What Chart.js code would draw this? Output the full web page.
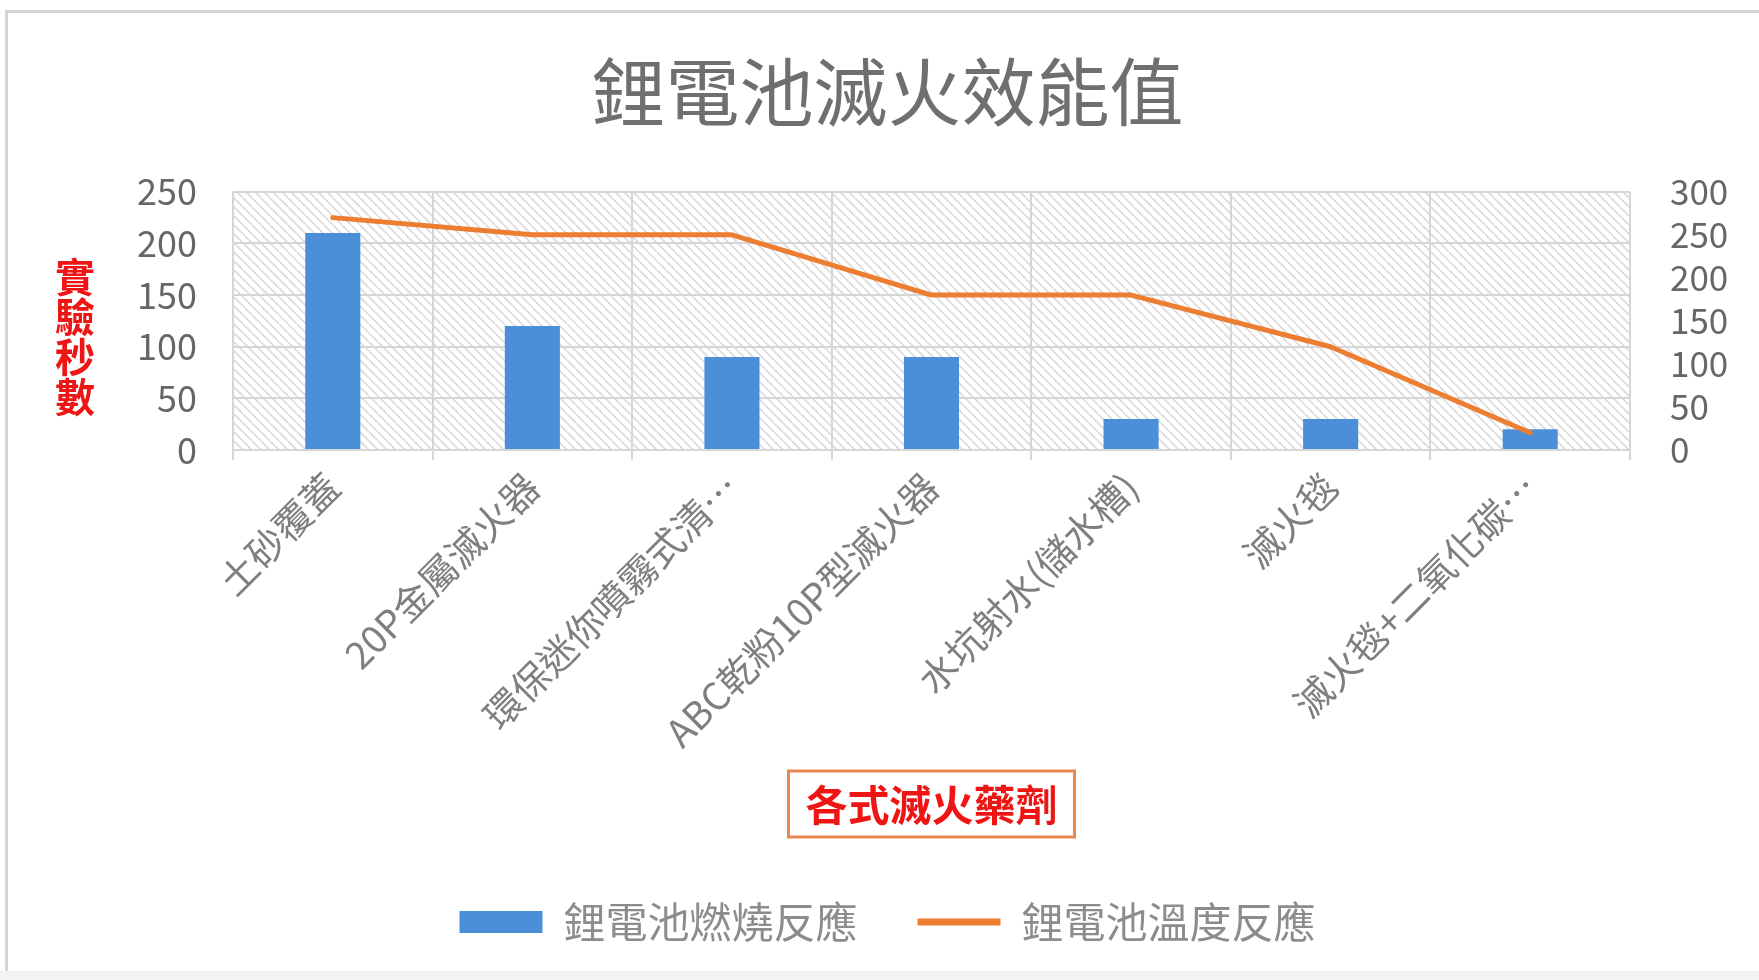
<!DOCTYPE html>
<html><head><meta charset="utf-8">
<script src="https://cdn.jsdelivr.net/npm/chart.js@4"></script>
<style>
html,body{margin:0;padding:0;background:#fff;width:1759px;height:980px;overflow:hidden;}
#frame{position:absolute;left:5px;top:10px;width:1800px;height:958px;border-left:3px solid #d4d4d4;border-top:3px solid #d4d4d4;border-bottom:2px solid #e6e6e6;}
#floor{position:absolute;left:0;top:971px;width:1759px;height:9px;background:#f3f3f3;}
#wrap{position:absolute;left:0;top:0;width:1759px;height:980px;}
</style></head>
<body><div id="frame"></div><div id="floor"></div><div id="wrap"><canvas id="c"></canvas></div>
<script>
const categories = ['土砂覆蓋','20P金屬滅火器','環保迷你噴霧式清…','ABC乾粉10P型滅火器','水坑射水(儲水槽)','滅火毯','滅火毯+二氧化碳…'];
const burnSeconds = [210,120,90,90,30,30,20];
const tempValues = [270,250,250,180,180,120,20];
const leftTicks = [0,50,100,150,200,250];
const rightTicks = [0,50,100,150,200,250,300];
const seriesNames = ['鋰電池燃燒反應','鋰電池溫度反應'];
const chartTitle = '鋰電池滅火效能值';
const yAxisTitle = '實驗秒數';
const xAxisTitle = '各式滅火藥劑';

const FONT = "'Noto Sans CJK TC','Noto Sans',sans-serif";
const BAR = '#4a8fd8', LINE = '#ed7d31', GRID = '#d6d6d6', RED = '#ee1515';

const hatch = (() => {
  const c = document.createElement('canvas'); c.width = 9; c.height = 9;
  const g = c.getContext('2d');
  g.strokeStyle = '#dadada'; g.lineWidth = 1.6;
  g.beginPath();
  for (const k of [-9, 0, 9]) { g.moveTo(k, 0); g.lineTo(k + 9, 9); }
  g.stroke();
  return c;
})();

const decor = {
  id: 'decor',
  beforeDraw(chart) {
    const {ctx, chartArea: a} = chart;
    ctx.save();
    ctx.fillStyle = '#fff';
    ctx.fillRect(a.left, a.top, a.width, a.height);
    ctx.fillStyle = ctx.createPattern(hatch, 'repeat');
    ctx.fillRect(a.left, a.top, a.width, a.height);
    ctx.restore();
  },
  afterDraw(chart) {
    const {ctx, chartArea: a} = chart;
    ctx.save();
    ctx.fillStyle = RED;
    ctx.textAlign = 'center';
    ctx.textBaseline = 'middle';
    ctx.font = 'bold 40px ' + FONT;
    [...yAxisTitle].forEach((ch, i) => ctx.fillText(ch, 75, a.top + 85 + i * 40));
    const cx = (a.left + a.right) / 2, cy = a.bottom + 354;
    ctx.fillStyle = '#fff';
    ctx.fillRect(cx - 143, cy - 33, 286, 66);
    ctx.strokeStyle = '#e8894f'; ctx.lineWidth = 3;
    ctx.strokeRect(cx - 143, cy - 33, 286, 66);
    ctx.fillStyle = RED;
    ctx.font = 'bold 42px ' + FONT;
    ctx.fillText(xAxisTitle, cx, cy + 1);
    ctx.restore();
  }
};

new Chart(document.getElementById('c'), {
  data: {
    labels: categories,
    datasets: [
      {type: 'bar', label: seriesNames[0], data: burnSeconds, backgroundColor: BAR, yAxisID: 'y',
       barPercentage: 0.276, categoryPercentage: 1, order: 1},
      {type: 'line', label: seriesNames[1], data: tempValues, borderColor: LINE, backgroundColor: LINE,
       borderWidth: 5, pointRadius: 0, tension: 0, yAxisID: 'y1', order: 0,
       borderCapStyle: 'round', borderJoinStyle: 'round'}
    ]
  },
  options: {
    responsive: true, maintainAspectRatio: false, animation: false,
    layout: {padding: {top: 0, left: 16, right: 0, bottom: 27}},
    scales: {
      x: {
        offset: true,
        grid: {offset: true, color: GRID, lineWidth: 2, tickLength: 10, drawTicks: true},
        border: {color: GRID, width: 2},
        ticks: {autoSkip: false, minRotation: 45, maxRotation: 45, padding: 4, color: '#7f7f7f',
                font: {family: FONT, size: 38}},
        afterFit(s) { s.height = 391; }
      },
      y: {
        position: 'left', min: 0, max: 250,
        afterBuildTicks(s) { s.ticks = leftTicks.map(v => ({value: v})); },
        ticks: {autoSkip: false, padding: 36, color: '#666', font: {family: FONT, size: 36}},
        grid: {color: GRID, lineWidth: 2, drawTicks: false},
        border: {display: false},
        afterFit(s) { s.width = 217; }
      },
      y1: {
        position: 'right', min: 0, max: 300,
        afterBuildTicks(s) { s.ticks = rightTicks.map(v => ({value: v})); },
        ticks: {autoSkip: false, padding: 40, color: '#666', font: {family: FONT, size: 35}},
        grid: {drawOnChartArea: false, drawTicks: false},
        border: {display: false},
        afterFit(s) { s.width = 129; }
      }
    },
    plugins: {
      title: {display: true, text: chartTitle, color: '#6f6f6f',
              font: {family: FONT, size: 74, weight: 'normal'}, padding: {top: 47, bottom: 56}},
      tooltip: {enabled: false},
      legend: {
        position: 'bottom',
        labels: {
          usePointStyle: true, pointStyleWidth: 83, boxHeight: 22, padding: 60,
          color: '#8c8c8c', font: {family: FONT, size: 42},
          generateLabels(chart) {
            return chart.data.datasets.map((d, i) => ({
              text: d.label,
              fillStyle: i === 0 ? d.backgroundColor : d.borderColor,
              strokeStyle: i === 0 ? d.backgroundColor : d.borderColor,
              lineWidth: i === 0 ? 0 : 7,
              pointStyle: i === 0 ? 'rect' : 'line',
              hidden: false, datasetIndex: i, fontColor: '#8c8c8c'
            }));
          }
        }
      }
    }
  },
  plugins: [decor]
});
</script>
</body></html>
